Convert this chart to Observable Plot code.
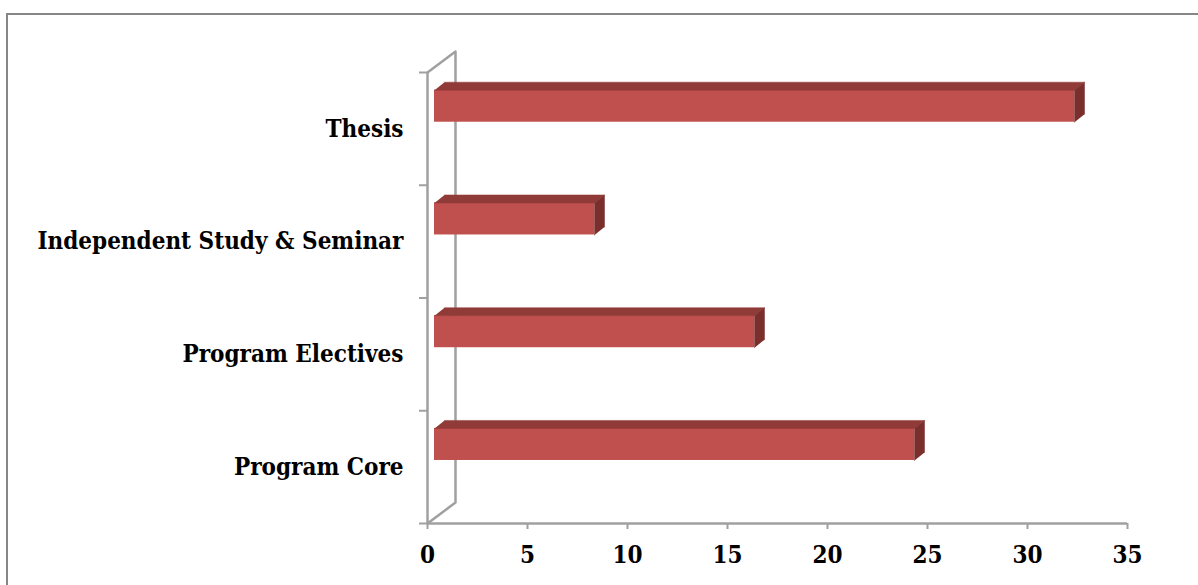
<!DOCTYPE html>
<html>
<head>
<meta charset="utf-8">
<script src="https://cdn.jsdelivr.net/npm/d3@7"></script>
<script src="https://cdn.jsdelivr.net/npm/@observablehq/plot@0.6"></script>
<style>
  html, body { margin: 0; padding: 0; background: #fff; overflow: hidden; }
  #wrap { position: relative; width: 1198px; height: 585px; overflow: hidden; }
  #frame { position: absolute; left: 6px; top: 13px; width: 1400px; height: 800px; border: 2px solid #878787; box-sizing: border-box; }
  #chart { position: absolute; left: 0; top: 0; }
  #chart svg { font-family: "DejaVu Serif Condensed", "DejaVu Serif", serif; }
</style>
</head>
<body>
<div id="wrap"><div id="frame"></div><div id="chart"></div></div>
<script>
// ---- data ----
const categories = ["Program Core", "Program Electives", "Independent Study & Seminar", "Thesis"];
const values = [24, 16, 8, 32];
const xTicks = [0, 5, 10, 15, 20, 25, 30, 35];

// ---- style constants (3D look) ----
const depthX = 0.5, depthY = 0.071;      // bar depth in data units
const wallX = 1.4, wallY = 0.186;        // back wall offset in data units
const barLo = 0.559, barHi = 0.843;      // bar front face within category band
const front = "#C0504D", topC = "#913B39", sideC = "#7A2F2D", grid = "#A0A0A0";

const bars = categories.map((c, i) => ({c, i, v: values[i]}));
const topFaces = bars.flatMap(b => [
  {id: b.c, x: 0, y: b.i + barHi},
  {id: b.c, x: b.v, y: b.i + barHi},
  {id: b.c, x: b.v + depthX, y: b.i + barHi + depthY},
  {id: b.c, x: depthX, y: b.i + barHi + depthY}
]);
const sideFaces = bars.flatMap(b => [
  {id: b.c, x: b.v, y: b.i + barLo},
  {id: b.c, x: b.v, y: b.i + barHi},
  {id: b.c, x: b.v + depthX, y: b.i + barHi + depthY},
  {id: b.c, x: b.v + depthX, y: b.i + barLo + depthY}
]);
const n = categories.length;
const wall = [
  {id: "a", x: 0, y: n}, {id: "a", x: wallX, y: n + wallY}, {id: "a", x: wallX, y: wallY}, {id: "a", x: 0, y: 0}
];

const plot = Plot.plot({
  width: 1198,
  height: 585,
  marginLeft: 427,
  marginRight: 71,
  marginTop: 72,
  marginBottom: 62,
  x: {domain: [0, 35], label: null},
  y: {domain: [0, n], label: null},
  style: {background: "transparent"},
  marks: [
    Plot.ruleX([0], {y1: 0, y2: n, stroke: grid, strokeWidth: 2.5}),
    Plot.line(wall, {x: "x", y: "y", z: "id", stroke: grid, strokeWidth: 2.5}),
    Plot.ruleY([0], {x1: 0, x2: 35, stroke: grid, strokeWidth: 2.5}),
    Plot.axisY({ticks: d3.range(0, n + 1), tickSize: 8, tickFormat: () => "", label: null, stroke: grid, strokeWidth: 2}),
    Plot.axisY({ticks: d3.range(0, n).map(i => i + 0.5), tickSize: 0, tickPadding: 24, label: null,
      tickFormat: d => categories[Math.floor(d)], fontSize: 24, fontWeight: "bold", fill: "#000"}),
    Plot.axisX({ticks: xTicks, tickSize: 6, tickPadding: 16, tickFormat: d => String(d), label: null,
      fontSize: 24, fontWeight: "bold", stroke: grid, strokeWidth: 2, fill: "#000"}),
    Plot.rect(bars, {x1: 0, x2: "v", y1: d => d.i + barLo, y2: d => d.i + barHi, dx: 7, fill: front}),
    Plot.line(topFaces, {x: "x", y: "y", z: "id", dx: 7, fill: topC, stroke: topC, strokeWidth: 0.5}),
    Plot.line(sideFaces, {x: "x", y: "y", z: "id", dx: 7, fill: sideC, stroke: sideC, strokeWidth: 0.5})
  ]
});
document.getElementById("chart").appendChild(plot);
</script>
</body>
</html>
